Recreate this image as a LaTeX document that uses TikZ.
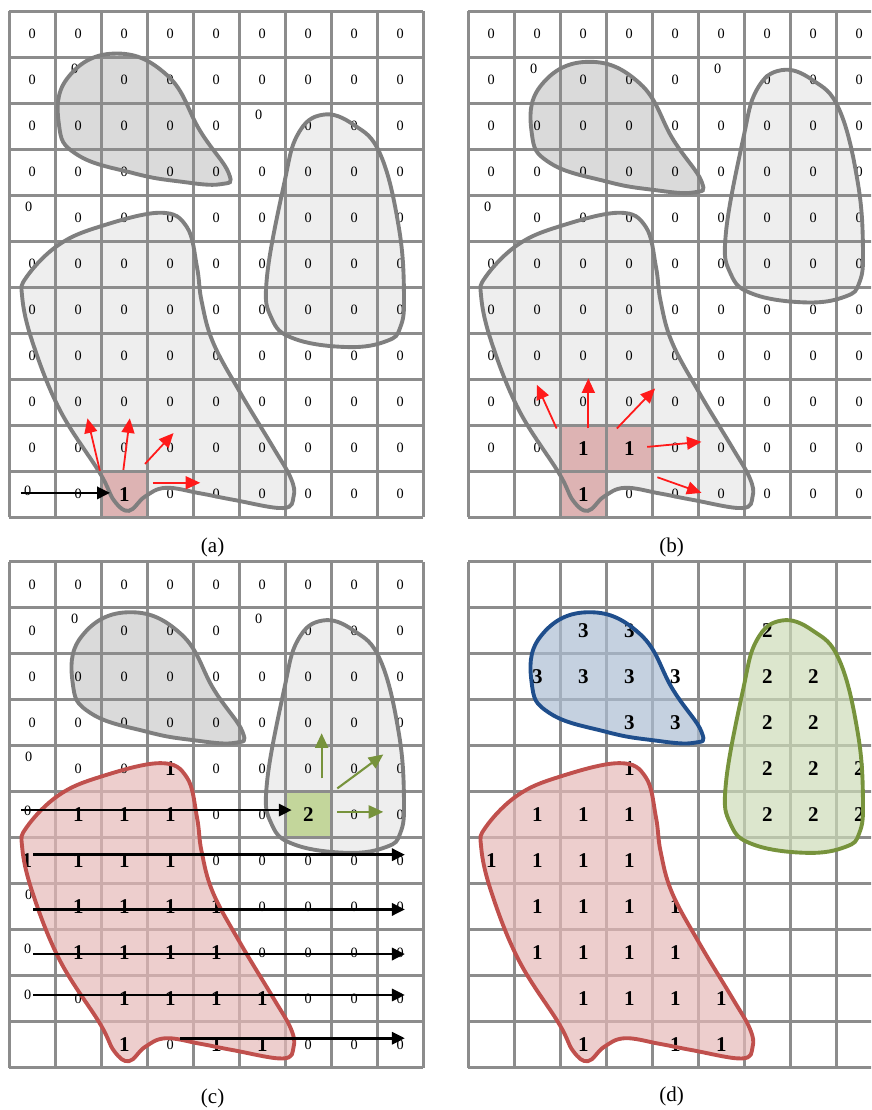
\documentclass[tikz,border=0pt]{standalone}
\usepackage{fontspec}
\setmainfont{Liberation Serif}
\usetikzlibrary{arrows.meta}

\definecolor{gridgray}{HTML}{8C8C8C}
\definecolor{blobgray}{HTML}{7F7F7F}
\definecolor{darkfill}{HTML}{DADADA}
\definecolor{lightfill}{HTML}{EEEEEE}
\definecolor{seedred}{HTML}{DDB3B3}
\definecolor{seedgreen}{HTML}{C3D69B}
\definecolor{redline}{HTML}{C0504D}
\definecolor{redfill}{HTML}{E6B9B8}
\definecolor{greenline}{HTML}{77933C}
\definecolor{greenfill}{HTML}{CDDBB8}
\definecolor{blueline}{HTML}{1F4E8C}
\definecolor{bluefill}{HTML}{ACBDD3}
\definecolor{arrowred}{HTML}{FF1A1A}

% region outlines, in cell units of one panel
\newcommand{\regionnw}{plot[smooth cycle,tension=0.75] coordinates {(2.57,9.9) (3.73,9.43) (4.46,8.2) (5.07,7.3) (4.89,7.06) (4.0,7.12) (3.0,7.3) (1.78,7.7) (1.38,8.35) (1.56,9.36)}}
\newcommand{\regionne}{plot[smooth cycle,tension=0.7] coordinates {(6.81,9.72) (7.49,9.5) (8.07,8.85) (8.47,7.26) (8.58,5.81) (8.5,5.1) (8.2,4.8) (7.36,4.67) (6.2,4.85) (5.7,5.3) (5.6,6.18) (5.97,8.2) (6.27,9.29)}}
\newcommand{\regionsw}{plot[smooth cycle,tension=0.65] coordinates {(3.28,6.62) (3.86,6.31) (4.08,5.44) (4.18,4.7) (4.43,3.8) (5.02,2.71) (5.73,1.53) (6.12,0.85) (6.18,0.45) (5.95,0.2) (4.87,0.38) (4.15,0.52) (3.4,0.64) (2.95,0.45) (2.6,0.14) (2.28,0.36) (1.97,0.96) (1.1,2.33) (0.51,3.79) (0.28,4.79) (0.38,5.23) (1.07,5.92) (1.97,6.32)}}

\begin{document}
\begin{tikzpicture}[x=1cm, y=1cm,
  gridline/.style={draw=gridgray, line width=1.6pt},
  region/.style={line width=2.4pt},
  zero/.style={font=\fontsize{8.8}{10}\selectfont, inner sep=0pt},
  bold/.style={font=\fontsize{13}{15}\selectfont\bfseries, inner sep=0pt},
  v0/.style={zero, node contents={0}},
  vu/.style={zero, xshift=-0.08cm, yshift=0.25cm, node contents={0}},
  vl/.style={zero, xshift=-0.1cm, yshift=0.08cm, node contents={0}},
  vn/.style={inner sep=0pt, node contents={}},
  v1/.style={bold, node contents={1}},
  vk/.style={bold, xshift=-0.12cm, node contents={1}},
  v2/.style={bold, node contents={2}},
  v3/.style={bold, node contents={3}},
  caption/.style={font=\fontsize{13}{15}\selectfont},
  scanarrow/.style={-{Triangle[length=8pt,width=7.5pt]}, line width=1.7pt},
  probearrow/.style={arrowred, -{Triangle[length=9pt,width=8pt]}, line width=1.1pt},
  spreadarrow/.style={greenline, -{Triangle[length=9pt,width=8pt]}, line width=1.3pt}]
\useasboundingbox (0,0) rectangle (18.935,24.13);
\clip (0,0) rectangle (18.935,24.13);

% (a) first seed
\begin{scope}[shift={(0.202,12.885)}]
  \fill[darkfill, shift={(-0.3,0.18)}] \regionnw;
  \fill[lightfill, shift={(0,-0.97)}] \regionne;
  \fill[lightfill] \regionsw;
  \fill[seedred] (2,0) rectangle (3,1);
  \draw[gridline] (0,0) grid (9,11);
  \foreach \cells [count=\rr from 0] in {
    {0,0,0,0,0,0,0,0,0}, {0,u,0,0,0,0,0,0,0}, {0,0,0,0,0,u,0,0,0},
    {0,0,0,0,0,0,0,0,0}, {u,0,0,0,0,0,0,0,0}, {0,0,0,0,0,0,0,0,0},
    {0,0,0,0,0,0,0,0,0}, {0,0,0,0,0,0,0,0,0}, {0,0,0,0,0,0,0,0,0},
    {0,0,0,0,0,0,0,0,0}, {l,0,1,0,0,0,0,0,0}}
    \foreach \v [count=\cc from 0] in \cells
      \node (a-\cc-\rr) at (\cc+0.5,10.5-\rr) [v\v];
  \draw[region, draw=blobgray, shift={(-0.3,0.18)}] \regionnw;
  \draw[region, draw=blobgray, shift={(0,-0.97)}] \regionne;
  \draw[region, draw=blobgray] \regionsw;
  \coordinate (a-in) at (0.25,0.53);
  \coordinate (a-seed) at (2.19,0.53);
  \draw[scanarrow] (a-in) -- (a-seed);
  \foreach \k/\sx/\sy/\tx/\ty in {1/1.97/1.01/1.7/2.15, 2/2.48/1.03/2.62/2.15,
      3/2.95/1.16/3.57/1.83, 4/3.12/0.75/4.15/0.75} {
    \coordinate (a-s\k) at (\sx,\sy);
    \coordinate (a-t\k) at (\tx,\ty);
    \draw[probearrow] (a-s\k) -- (a-t\k);
  }
  \node[caption] (cap-a) at (4.42,-0.65) {(a)};
\end{scope}

% (b) region growing
\begin{scope}[shift={(10.18,12.885)}]
  \fill[darkfill] \regionnw;
  \fill[lightfill] \regionne;
  \fill[lightfill] \regionsw;
  \fill[seedred] (2,0) rectangle (3,2) (3,1) rectangle (4,2);
  \draw[gridline] (0,0) grid (9,11);
  \foreach \cells [count=\rr from 0] in {
    {0,0,0,0,0,0,0,0,0}, {0,u,0,0,0,u,0,0,0}, {0,0,0,0,0,0,0,0,0},
    {0,0,0,0,0,0,0,0,0}, {u,0,0,0,0,0,0,0,0}, {0,0,0,0,0,0,0,0,0},
    {0,0,0,0,0,0,0,0,0}, {0,0,0,0,0,0,0,0,0}, {0,0,0,0,0,0,0,0,0},
    {0,0,1,1,0,0,0,0,0}, {n,n,1,0,0,0,0,0,0}}
    \foreach \v [count=\cc from 0] in \cells
      \node (b-\cc-\rr) at (\cc+0.5,10.5-\rr) [v\v];
  \draw[region, draw=blobgray] \regionnw;
  \draw[region, draw=blobgray] \regionne;
  \draw[region, draw=blobgray] \regionsw;
  \foreach \k/\sx/\sy/\tx/\ty in {1/1.92/1.93/1.49/2.88, 2/2.61/1.93/2.61/3.02,
      3/3.23/1.93/4.06/2.8, 4/3.89/1.53/5.07/1.64, 5/4.11/0.87/5.07/0.53} {
    \coordinate (b-s\k) at (\sx,\sy);
    \coordinate (b-t\k) at (\tx,\ty);
    \draw[probearrow] (b-s\k) -- (b-t\k);
  }
  \node[caption] (cap-b) at (4.42,-0.65) {(b)};
\end{scope}

% (c) second seed
\begin{scope}[shift={(0.202,0.92)}]
  \fill[darkfill] \regionnw;
  \fill[lightfill] \regionne;
  \fill[seedgreen] (6,5) rectangle (7,6);
  \draw[gridline] (0,0) grid (9,11);
  \fill[redfill, fill opacity=0.7] \regionsw;
  \foreach \cells [count=\rr from 0] in {
    {0,0,0,0,0,0,0,0,0}, {0,u,0,0,0,u,0,0,0}, {0,0,0,0,0,0,0,0,0},
    {0,0,0,0,0,0,0,0,0}, {u,0,0,1,0,0,0,0,0}, {l,1,1,1,0,0,2,0,0},
    {k,1,1,1,0,0,0,0,0}, {u,1,1,1,1,0,0,0,0}, {l,1,1,1,1,0,0,0,0},
    {l,0,1,1,1,1,0,0,0}, {n,n,1,0,1,1,0,0,0}}
    \foreach \v [count=\cc from 0] in \cells
      \node (c-\cc-\rr) at (\cc+0.5,10.5-\rr) [v\v];
  \draw[region, draw=blobgray] \regionnw;
  \draw[region, draw=blobgray] \regionne;
  \draw[region, draw=redline] \regionsw;
  \foreach \k/\sx/\ex/\y in {5/0.25/6.14/5.6, 6/0.52/8.6/4.63, 7/0.52/8.6/3.44,
      8/0.52/8.6/2.47, 9/0.52/8.6/1.58, 10/3.71/8.6/0.64} {
    \coordinate (c-in\k) at (\sx,\y);
    \coordinate (c-out\k) at (\ex,\y);
    \draw[scanarrow] (c-in\k) -- (c-out\k);
  }
  \foreach \k/\sx/\sy/\tx/\ty in {1/6.79/6.29/6.79/7.27, 2/7.13/6.07/8.13/6.81,
      3/7.13/5.56/8.13/5.56} {
    \coordinate (c-s\k) at (\sx,\sy);
    \coordinate (c-t\k) at (\tx,\ty);
    \draw[spreadarrow] (c-s\k) -- (c-t\k);
  }
  \node[caption] (cap-c) at (4.42,-0.66) {(c)};
\end{scope}

% (d) labelled regions
\begin{scope}[shift={(10.18,0.92)}]
  \draw[gridline] (0,0) grid (9,11);
  \fill[bluefill, fill opacity=0.7] \regionnw;
  \fill[greenfill, fill opacity=0.7] \regionne;
  \fill[redfill, fill opacity=0.7] \regionsw;
  \foreach \cells [count=\rr from 0] in {
    {n,n,n,n,n,n,n,n,n}, {n,n,3,3,n,n,2,n,n}, {n,3,3,3,3,n,2,2,n},
    {n,n,n,3,3,n,2,2,n}, {n,n,n,1,n,n,2,2,2}, {n,1,1,1,n,n,2,2,2},
    {1,1,1,1,n,n,n,n,n}, {n,1,1,1,1,n,n,n,n}, {n,1,1,1,1,n,n,n,n},
    {n,n,1,1,1,1,n,n,n}, {n,n,1,n,1,1,n,n,n}}
    \foreach \v [count=\cc from 0] in \cells
      \node (d-\cc-\rr) at (\cc+0.5,10.5-\rr) [v\v];
  \draw[region, draw=blueline] \regionnw;
  \draw[region, draw=greenline] \regionne;
  \draw[region, draw=redline] \regionsw;
  \node[caption] (cap-d) at (4.42,-0.63) {(d)};
\end{scope}
\end{tikzpicture}
\end{document}
